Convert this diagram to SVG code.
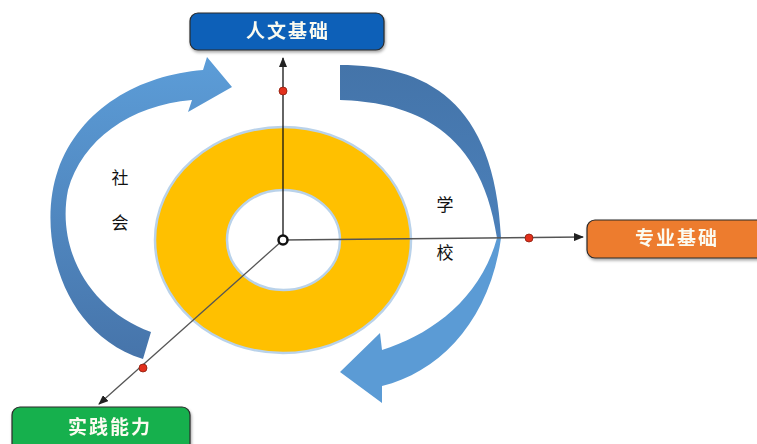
<svg xmlns="http://www.w3.org/2000/svg" width="757" height="444" viewBox="0 0 757 444">
<defs>
<style>
.box{stroke:#2b2b2b;stroke-width:1.2}
.lbl{font-family:"Noto Sans CJK SC",sans-serif;font-weight:bold;font-size:19px;fill:#fbfbf0;text-anchor:middle;letter-spacing:2px}
.ring{font-family:"Noto Sans CJK SC",sans-serif;font-size:17px;fill:#111;text-anchor:middle}
.conn{fill:none;stroke-width:1.3}
.dot{fill:#e2301c;stroke:#8a1e0e;stroke-width:0.8}
</style>
<linearGradient id="gl" x1="0" y1="0" x2="0" y2="1">
<stop offset="0" stop-color="#5c9dd8"/>
<stop offset="1" stop-color="#4674aa"/>
</linearGradient>
<linearGradient id="gr" x1="0" y1="0" x2="0" y2="1">
<stop offset="0" stop-color="#4474a9"/>
<stop offset="1" stop-color="#4b80ba"/>
</linearGradient>
<filter id="sh" x="-10%" y="-20%" width="120%" height="160%">
<feDropShadow dx="1" dy="2" stdDeviation="1.5" flood-color="#000" flood-opacity="0.35"/>
</filter>
<marker id="ah" markerWidth="10" markerHeight="8" refX="9" refY="4" orient="auto" markerUnits="userSpaceOnUse">
<path d="M0,0 L10,4 L0,8 z" fill="#222"/>
</marker>
</defs>
<rect width="757" height="444" fill="#ffffff"/>

<g id="donut">
<path d="M155,240 a128,113 0 1,0 256,0 a128,113 0 1,0 -256,0 z M227,240 a56.5,50 0 1,1 113,0 a56.5,50 0 1,1 -113,0 z" fill="#ffc000" fill-rule="evenodd" stroke="#b9d2ea" stroke-width="2.5"/>
</g>

<g id="arrow-left">
<path d="M143,359 C58,332 37,230 58,170 C80,108 140,75 203,70 L207,57 L232,87 L188,112 L192,100 C130,105 82,140 68,190 C56,250 90,310 151,332 Z" fill="url(#gl)"/>
</g>

<g id="arrow-right">
<path d="M340,65 C425,65 495,100 501,238 L497,238 C480,120 400,102 340,100 Z" fill="url(#gr)"/>
<path d="M501,238 C490,320 440,372 382,386 L382,403 L340,372 L380,333 L382,350 C430,335 480,300 497,238 Z" fill="#5b9bd5"/>
</g>

<g id="connectors">
<line class="conn" x1="283" y1="240" x2="283" y2="58" stroke="#111" marker-end="url(#ah)"/>
<line class="conn" x1="283" y1="240" x2="583" y2="237" stroke="#555" marker-end="url(#ah)"/>
<line class="conn" x1="283" y1="240" x2="99" y2="404" stroke="#555" marker-end="url(#ah)"/>
<circle class="dot" cx="283" cy="91" r="4"/>
<circle class="dot" cx="529" cy="238" r="4"/>
<circle class="dot" cx="143" cy="368" r="4"/>
<circle cx="283" cy="240" r="4.5" fill="#fff" stroke="#111" stroke-width="2.5"/>
</g>

<g id="labels-ring">
<text class="ring" x="120" y="184">社</text>
<text class="ring" x="120" y="229">会</text>
<text class="ring" x="445" y="211">学</text>
<text class="ring" x="445" y="259">校</text>
</g>

<g id="node-renwen" filter="url(#sh)">
<rect class="box" x="190" y="13" width="194" height="37" rx="8" fill="#0b60b8"/>
<text class="lbl" x="288" y="38">人文基础</text>
</g>

<g id="node-zhuanye" filter="url(#sh)">
<rect class="box" x="587" y="220" width="180" height="38" rx="8" fill="#ed7b2f"/>
<text class="lbl" x="677" y="245">专业基础</text>
</g>

<g id="node-shijian" filter="url(#sh)">
<rect class="box" x="12" y="407" width="178" height="45" rx="8" fill="#17b04d"/>
<text class="lbl" x="110" y="434">实践能力</text>
</g>
</svg>
